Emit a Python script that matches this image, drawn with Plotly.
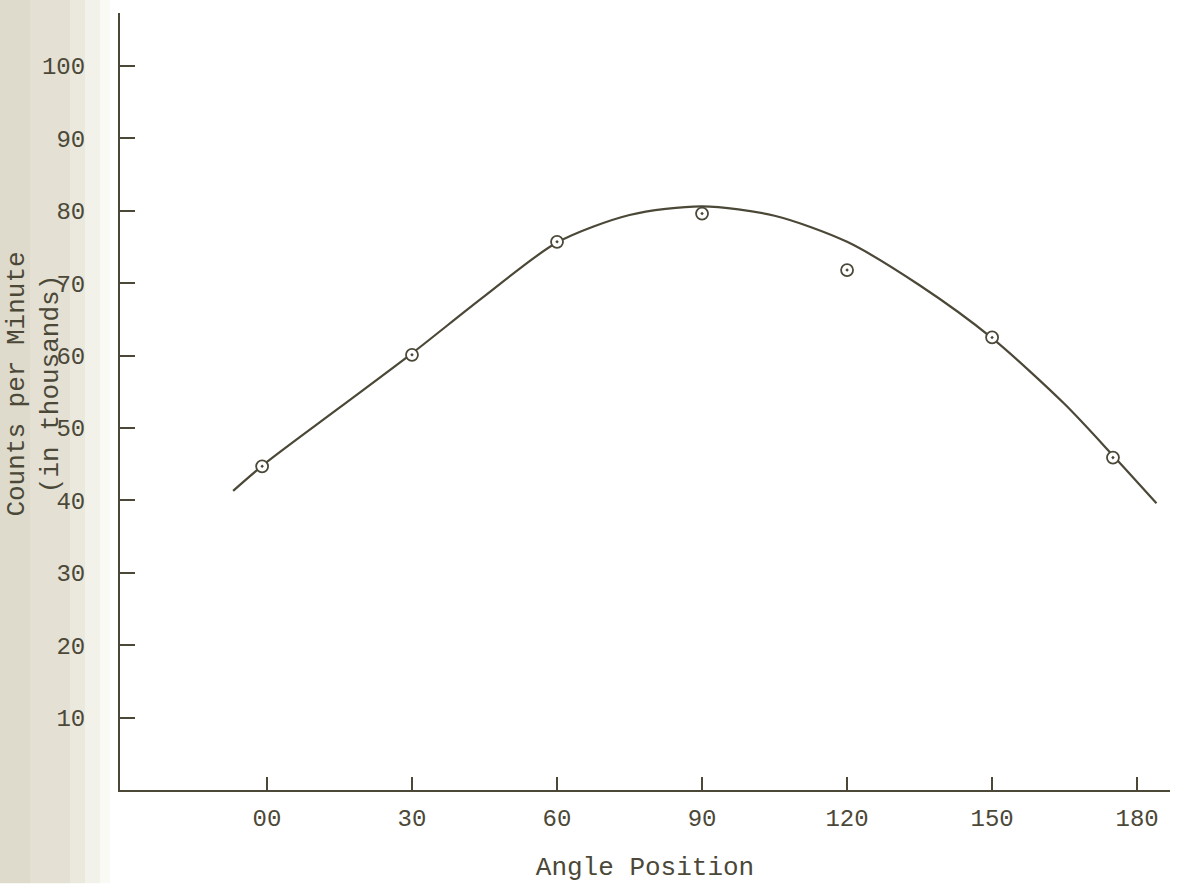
import plotly.graph_objects as go

# measured points (angle in degrees, counts per minute in thousands)
angle = [-1, 30, 60, 90, 120, 150, 175]
counts = [44.7, 60.1, 75.7, 79.6, 71.8, 62.5, 45.9]

# hand-drawn fitted curve
curve_angle = [-7, 0, 15, 30, 45, 60, 75, 90, 105, 120, 135, 150, 165, 175, 184]
curve_counts = [41.3, 45.3, 52.8, 60.3, 68.2, 75.6, 79.4, 80.6, 79.3, 75.7, 69.7, 62.4, 53.3, 46.2, 39.6]

x_tick_vals = [0, 30, 60, 90, 120, 150, 180]
x_tick_text = ["00", "30", "60", "90", "120", "150", "180"]
y_tick_vals = [10, 20, 30, 40, 50, 60, 70, 80, 90, 100]
y_tick_text = ["10", "20", "30", "40", "50", "60", "70", "80", "90", "100"]

INK = "#4b4838"
FONT = "Liberation Mono"


def px(p):
    return (p - 120) / 1050


fig = go.Figure()
fig.add_trace(go.Scatter(
    x=curve_angle, y=curve_counts, mode="lines",
    line=dict(color=INK, width=2.2, shape="spline", smoothing=0.8),
    hoverinfo="skip", showlegend=False,
))
fig.add_trace(go.Scatter(
    x=angle, y=counts, mode="markers",
    marker=dict(symbol="circle-dot", size=12, color="white",
                line=dict(color=INK, width=1.8)),
    showlegend=False,
))

# scan shading on the left edge
bands = [(0, 30, "#dedbcd"), (30, 70, "#e4e1d4"), (70, 85, "#ebe9de"),
         (85, 100, "#f3f2ea"), (100, 110, "#fafaf5")]
shapes = []
for x0, x1, c in bands:
    shapes.append(dict(type="rect", xref="paper", yref="paper", x0=px(x0), x1=px(x1),
                       y0=-0.12, y1=1.02, fillcolor=c, line=dict(width=0), layer="below"))

fig.update_layout(
    width=1178, height=884,
    margin=dict(l=120, r=8, t=13, b=89),
    paper_bgcolor="white", plot_bgcolor="rgba(0,0,0,0)",
    font=dict(family=FONT, color=INK, size=24),
    shapes=shapes,
    xaxis=dict(range=[-30.4, 186.8], tickvals=x_tick_vals, ticktext=x_tick_text,
               ticks="inside", ticklen=13, tickwidth=2, tickcolor=INK,
               showline=True, linecolor=INK, linewidth=2, showgrid=False, zeroline=False,
               tickfont=dict(family=FONT, size=24, color=INK), ticklabelstandoff=5,
               title=dict(text="Angle Position", font=dict(family=FONT, size=26, color=INK), standoff=25)),
    yaxis=dict(range=[0, 107.3], tickvals=y_tick_vals, ticktext=y_tick_text,
               ticks="inside", ticklen=15, tickwidth=2, tickcolor=INK,
               showline=True, linecolor=INK, linewidth=2, showgrid=False, zeroline=False,
               tickfont=dict(family=FONT, size=24, color=INK), ticklabelstandoff=28),
    annotations=[dict(
        text="Counts per Minute<br>(in thousands)", textangle=-90,
        xref="paper", yref="paper", x=px(34), y=(795 - 387) / 782,
        xanchor="center", yanchor="middle", showarrow=False,
        font=dict(family=FONT, size=26, color=INK),
    )],
)

fig.write_html("out.html")
